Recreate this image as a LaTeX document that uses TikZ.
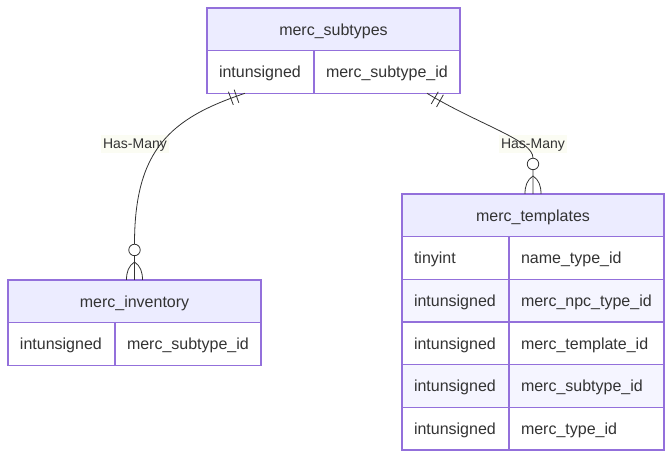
\documentclass[tikz,border=0pt]{standalone}
\usepackage{fontspec}
\setmainfont{Liberation Sans}
\usetikzlibrary{positioning,calc,decorations.markings}
\definecolor{entfill}{HTML}{ECECFF}
\definecolor{entline}{HTML}{9370DB}
\definecolor{rowalt}{HTML}{F5F5FF}
\definecolor{relline}{HTML}{333333}
\definecolor{lblfill}{HTML}{FBFCF3}

\begin{document}
\begin{tikzpicture}[x=0.75pt, y=-0.75pt,
  ent/.style={rectangle, draw=entline, line width=1pt, fill=entfill, outer sep=0pt, minimum width=#1, minimum height=32pt, text height=10.5pt, text depth=1.5pt, font=\fontsize{12}{14}\selectfont, text=relline},
  attr/.style={rectangle, draw=entline, line width=1pt, fill=#1, outer sep=0pt, minimum height=32pt, inner xsep=9pt, text height=10.5pt, text depth=1.5pt, align=left, font=\fontsize{12}{14}\selectfont, text=relline},
  cola/.style={text width=62.25pt},
  colb/.style={text width=91.5pt},
  colc/.style={text width=98.25pt},
  lbl/.style={fill=lblfill, inner xsep=1.5pt, inner ysep=1.5pt, text height=8.5pt, text depth=1.5pt, font=\fontsize{10.5}{12}\selectfont, text=relline},
  rel/.style={draw=relline, line width=0.6pt},
  onlyone/.style={postaction={decorate, decoration={markings,
    mark=at position 6.75pt with {\draw[rel] (0,-5.25pt) -- (0,5.25pt);},
    mark=at position 11.25pt with {\draw[rel] (0,-5.25pt) -- (0,5.25pt);}}}}
]
  \useasboundingbox (0,0) rectangle (672,459);

  % entities
  \node[ent=189.75pt] (sub) at (333.5,29.3) {merc\_subtypes};
  \node[attr=white, cola, below right=0pt of sub.south west] (sub1a) {intunsigned};
  \node[attr=white, colb, right=0pt of sub1a] (sub1b) {merc\_subtype\_id};

  \node[ent=189.75pt] (inv) at (134.5,301.3) {merc\_inventory};
  \node[attr=white, cola, below right=0pt of inv.south west] (inv1a) {intunsigned};
  \node[attr=white, colb, right=0pt of inv1a] (inv1b) {merc\_subtype\_id};

  \node[ent=196.5pt] (tpl) at (533,215.3) {merc\_templates};
  \node[attr=white, cola, below right=0pt of tpl.south west] (tpl1a) {tinyint};
  \node[attr=white, colc, right=0pt of tpl1a] (tpl1b) {name\_type\_id};
  \node[attr=rowalt, cola, below right=0pt of tpl1a.south west] (tpl2a) {intunsigned};
  \node[attr=rowalt, colc, right=0pt of tpl2a] (tpl2b) {merc\_npc\_type\_id};
  \node[attr=white, cola, below right=0pt of tpl2a.south west] (tpl3a) {intunsigned};
  \node[attr=white, colc, right=0pt of tpl3a] (tpl3b) {merc\_template\_id};
  \node[attr=rowalt, cola, below right=0pt of tpl3a.south west] (tpl4a) {intunsigned};
  \node[attr=rowalt, colc, right=0pt of tpl4a] (tpl4b) {merc\_subtype\_id};
  \node[attr=white, cola, below right=0pt of tpl4a.south west] (tpl5a) {intunsigned};
  \node[attr=white, colc, right=0pt of tpl5a] (tpl5b) {merc\_type\_id};

  % relationship labels
  \node[lbl] (has1) at (135,144) {Has-Many};
  \node[lbl] (has2) at (533,144) {Has-Many};

  % relationships
  \coordinate (s1) at ($(sub1a.south west)+(38,0)$);
  \coordinate (s2) at ($(sub1b.south east)+(-33,0)$);
  \draw[rel, onlyone] (s1) .. controls ($(s1)+(-75,25)$) and ($(inv.north)+(0,-130)$) .. ($(inv.north)+(0,-36)$) -- (inv.north);
  \draw[rel, onlyone] (s2) .. controls ($(s2)+(53,32)$) and ($(tpl.north)+(0,-54)$) .. ($(tpl.north)+(0,-36)$) -- (tpl.north);

  % zero or more
  \foreach \e in {inv,tpl} {
    \draw[rel, fill=white] ($(\e.north)+(0,-30)$) circle[radius=4.3pt];
    \draw[rel] ($(\e.north)+(0,-18)$) .. controls ($(\e.north)+(-6,-14)$) and ($(\e.north)+(-8,-8)$) .. ($(\e.north)+(-8,0)$);
    \draw[rel] ($(\e.north)+(0,-18)$) .. controls ($(\e.north)+(6,-14)$) and ($(\e.north)+(8,-8)$) .. ($(\e.north)+(8,0)$);
  }
\end{tikzpicture}
\end{document}
